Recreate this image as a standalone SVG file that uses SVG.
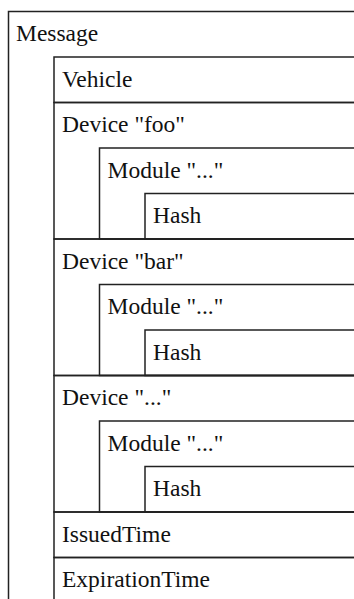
<svg xmlns="http://www.w3.org/2000/svg" width="354" height="599" viewBox="0 0 354 599">
<style>
.b{fill:none;stroke:#222;stroke-width:1.5}
.t{font-family:'Liberation Serif','Times New Roman',serif;font-size:23.5px;fill:#111}
</style>
<rect width="354" height="599" fill="#fff"/>
<g id="message"><rect class="b" x="8.5" y="11.5" width="400" height="620"/><text class="t" x="16" y="40.7">Message</text></g>
<g id="vehicle"><rect class="b" x="54" y="57" width="400" height="45.5"/><text class="t" x="62" y="86.5">Vehicle</text></g>
<g id="device-foo"><rect class="b" x="54" y="102.5" width="400" height="136.5"/><text class="t" x="62" y="132">Device "foo"</text>
<g id="module-foo"><rect class="b" x="99.5" y="148" width="400" height="91"/><text class="t" x="107.5" y="177.5">Module "..."</text>
<g id="hash-foo"><rect class="b" x="145" y="193.5" width="400" height="45.5"/><text class="t" x="153" y="223">Hash</text></g></g></g>
<g id="device-bar"><rect class="b" x="54" y="239" width="400" height="136.5"/><text class="t" x="62" y="268.5">Device "bar"</text>
<g id="module-bar"><rect class="b" x="99.5" y="284.5" width="400" height="91"/><text class="t" x="107.5" y="314">Module "..."</text>
<g id="hash-bar"><rect class="b" x="145" y="330" width="400" height="45.5"/><text class="t" x="153" y="359.5">Hash</text></g></g></g>
<g id="device-etc"><rect class="b" x="54" y="375.5" width="400" height="136.5"/><text class="t" x="62" y="405">Device "..."</text>
<g id="module-etc"><rect class="b" x="99.5" y="421" width="400" height="91"/><text class="t" x="107.5" y="450.5">Module "..."</text>
<g id="hash-etc"><rect class="b" x="145" y="466.5" width="400" height="45.5"/><text class="t" x="153" y="496">Hash</text></g></g></g>
<g id="issued-time"><rect class="b" x="54" y="512" width="400" height="45.5"/><text class="t" x="62" y="541.5">IssuedTime</text></g>
<g id="expiration-time"><rect class="b" x="54" y="557.5" width="400" height="100"/><text class="t" x="62" y="587">ExpirationTime</text></g>
<g id="connectors"/>
</svg>
